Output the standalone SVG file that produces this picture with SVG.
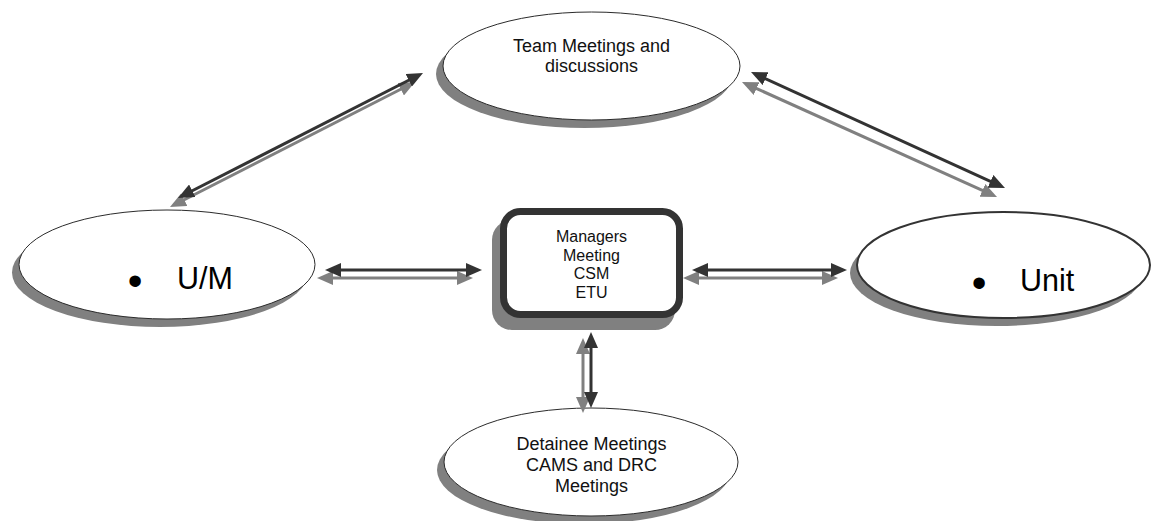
<svg xmlns="http://www.w3.org/2000/svg" width="1152" height="521" viewBox="0 0 1152 521">
  <style>
    .shadow { fill: #808080; stroke: none; }
    .oval { fill: #ffffff; stroke: #2b2b2b; stroke-width: 1; }
    .oval-bold { fill: #ffffff; stroke: #333333; stroke-width: 2; }
    .label { font-family: "Liberation Sans", Arial, sans-serif; fill: #111111; text-anchor: middle; }
    .big { font-family: "Liberation Sans", Arial, sans-serif; fill: #000000; }
    .link { fill: none; stroke-width: 3; }
    .link-dark { stroke: #333333; }
    .link-shadow { stroke: #808080; }
  </style>
  <defs>
    <marker id="headDark" viewBox="0 0 16 14" refX="6" refY="7" markerWidth="16" markerHeight="14" markerUnits="userSpaceOnUse" orient="auto-start-reverse">
      <path d="M0,0 L16,7 L0,14 z" fill="#333333"/>
    </marker>
    <marker id="headShadow" viewBox="0 0 16 14" refX="6" refY="7" markerWidth="16" markerHeight="14" markerUnits="userSpaceOnUse" orient="auto-start-reverse">
      <path d="M0,0 L16,7 L0,14 z" fill="#808080"/>
    </marker>
  </defs>

  <!-- Team Meetings and discussions -->
  <g id="node-team">
    <ellipse class="shadow" cx="584.5" cy="74" rx="148.5" ry="54"/>
    <ellipse class="oval" cx="591.5" cy="66" rx="148.5" ry="54"/>
    <text class="label" font-size="18" x="591.5" y="52">Team Meetings and</text>
    <text class="label" font-size="18" x="591.5" y="72">discussions</text>
  </g>

  <!-- U/M -->
  <g id="node-um">
    <ellipse class="shadow" cx="160" cy="272.5" rx="148" ry="54.5"/>
    <ellipse class="oval" cx="167" cy="264.5" rx="148" ry="54.5"/>
    <text class="big" font-size="42" x="135" y="295" text-anchor="middle">•</text>
    <text class="big" font-size="30.5" x="177" y="289">U/M</text>
  </g>

  <!-- Managers Meeting CSM ETU -->
  <g id="node-managers">
    <rect class="shadow" x="492" y="220" width="183" height="110" rx="20"/>
    <rect x="503.5" y="211.5" width="176" height="103" rx="17" fill="#ffffff" stroke="#333333" stroke-width="7"/>
    <text class="label" font-size="16" x="591.5" y="242">Managers</text>
    <text class="label" font-size="16" x="591.5" y="260.5">Meeting</text>
    <text class="label" font-size="16" x="591.5" y="279">CSM</text>
    <text class="label" font-size="16" x="591.5" y="297.5">ETU</text>
  </g>

  <!-- Unit -->
  <g id="node-unit">
    <ellipse class="shadow" cx="996.5" cy="273" rx="146.5" ry="53"/>
    <ellipse class="oval-bold" cx="1003.5" cy="265" rx="146.5" ry="53"/>
    <text class="big" font-size="42" x="979" y="297" text-anchor="middle">•</text>
    <text class="big" font-size="30.5" x="1020" y="291">Unit</text>
  </g>

  <!-- Detainee Meetings CAMS and DRC Meetings -->
  <g id="node-detainee">
    <ellipse class="shadow" cx="584" cy="470" rx="147" ry="54"/>
    <ellipse class="oval" cx="591" cy="462" rx="147" ry="54"/>
    <text class="label" font-size="18" x="591.5" y="450">Detainee Meetings</text>
    <text class="label" font-size="18" x="591.5" y="471">CAMS and DRC</text>
    <text class="label" font-size="18" x="591.5" y="492">Meetings</text>
  </g>

  <!-- two-way connectors, each with its offset shadow -->
  <g id="connectors">
    <!-- U/M <-> Team -->
    <line class="link link-shadow" x1="178.9" y1="202.5" x2="406.1" y2="86.5" marker-start="url(#headShadow)" marker-end="url(#headShadow)"/>
    <line class="link link-dark" x1="186.9" y1="193.5" x2="414.1" y2="77.5" marker-start="url(#headDark)" marker-end="url(#headDark)"/>
    <!-- Team <-> Unit -->
    <line class="link link-shadow" x1="751.1" y1="86.1" x2="987.9" y2="192.9" marker-start="url(#headShadow)" marker-end="url(#headShadow)"/>
    <line class="link link-dark" x1="760.1" y1="76.2" x2="995.9" y2="183.8" marker-start="url(#headDark)" marker-end="url(#headDark)"/>
    <!-- U/M <-> Managers -->
    <line class="link link-shadow" x1="327" y1="278" x2="463" y2="278" marker-start="url(#headShadow)" marker-end="url(#headShadow)"/>
    <line class="link link-dark" x1="335" y1="270" x2="472" y2="270" marker-start="url(#headDark)" marker-end="url(#headDark)"/>
    <!-- Managers <-> Unit -->
    <line class="link link-shadow" x1="693" y1="278" x2="828" y2="278" marker-start="url(#headShadow)" marker-end="url(#headShadow)"/>
    <line class="link link-dark" x1="702" y1="270" x2="837" y2="270" marker-start="url(#headDark)" marker-end="url(#headDark)"/>
    <!-- Managers <-> Detainee -->
    <line class="link link-shadow" x1="583" y1="348" x2="583" y2="403" marker-start="url(#headShadow)" marker-end="url(#headShadow)"/>
    <line class="link link-dark" x1="591" y1="342" x2="591" y2="398" marker-start="url(#headDark)" marker-end="url(#headDark)"/>
  </g>
</svg>
